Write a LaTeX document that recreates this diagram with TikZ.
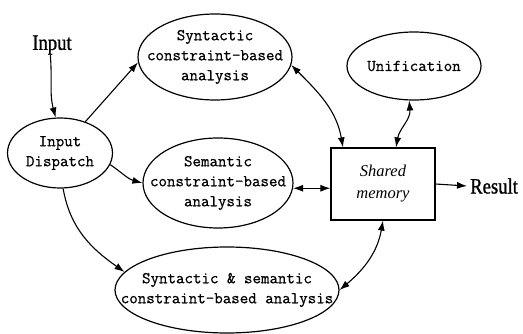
\documentclass[tikz,border=0pt]{standalone}
\usepackage{fontspec}
\setmainfont{Liberation Serif}
\setmonofont{Latin Modern Mono}[FakeBold=0.7]
\newfontfamily\condserif{Liberation Serif}[FakeStretch=0.85,FakeBold=1]
\usetikzlibrary{shapes.geometric,arrows.meta}

\begin{document}
\begin{tikzpicture}[x=1pt,y=1pt,
    oval/.style={draw,ellipse,line width=1.2pt,inner sep=0pt},
    monotext/.style={font=\ttfamily\fontsize{16.5}{20}\selectfont,align=center,inner sep=0pt},
    plaintext/.style={font=\condserif\fontsize{22}{24}\selectfont,inner sep=0pt},
    memory/.style={draw,line width=1.2pt,inner sep=0pt,align=center,
      font=\itshape\fontsize{16.5}{22}\selectfont},
    flow/.style={line width=1.1pt,-{Latex[length=10pt,width=7pt]}},
    link/.style={line width=1.1pt,{Latex[length=10pt,width=7pt]}-{Latex[length=10pt,width=7pt]}}]
  \useasboundingbox (0,0) rectangle (523,-334);
  \node[plaintext] (inp) at (52,-45) {Input};
  \node[oval,minimum width=105,minimum height=70,
    label={[monotext]center:{Input\\Dispatch}}] (disp) at (60,-153) {};
  \node[oval,minimum width=154,minimum height=86,
    label={[monotext]center:{Syntactic\\constraint-based\\analysis}}] (syn) at (215,-57) {};
  \node[oval,minimum width=150,minimum height=90,
    label={[monotext]center:{Semantic\\constraint-based\\analysis}}] (sem) at (218,-183) {};
  \node[oval,minimum width=224,minimum height=86,
    label={[monotext]center:{Syntactic \& semantic\\constraint-based analysis}}] (synsem) at (227,-290) {};
  \node[oval,minimum width=134,minimum height=68,
    label={[monotext]center:Unification}] (uni) at (414,-66) {};
  \node[memory,minimum width=104,minimum height=72] (mem) at (383,-184) {Shared\\memory};
  \node[plaintext,anchor=west] (res) at (470,-186) {Result};
  % dispatch
  \begin{scope}[flow]
    \draw (inp.-100) to[out=-85,in=105] (disp.97);
    \draw (disp.51) -- (syn.184);
    \draw (disp.-13) to[out=-35,in=165] (sem.180);
    \draw (disp.-85) to[out=-80,in=145] (synsem.170);
    \draw (mem.east) -- ([xshift=-3]res.west);
  \end{scope}
  % shared memory
  \begin{scope}[link]
    \draw (syn.-6) to[out=-45,in=100] ([xshift=-40]mem.north);
    \draw (uni.-98) to[out=-85,in=80] ([xshift=13]mem.north);
    \draw (sem.-4) -- (sem.-4 -| mem.west);
    \draw (synsem.east) to[out=40,in=-100] (mem.south);
  \end{scope}
\end{tikzpicture}
\end{document}
